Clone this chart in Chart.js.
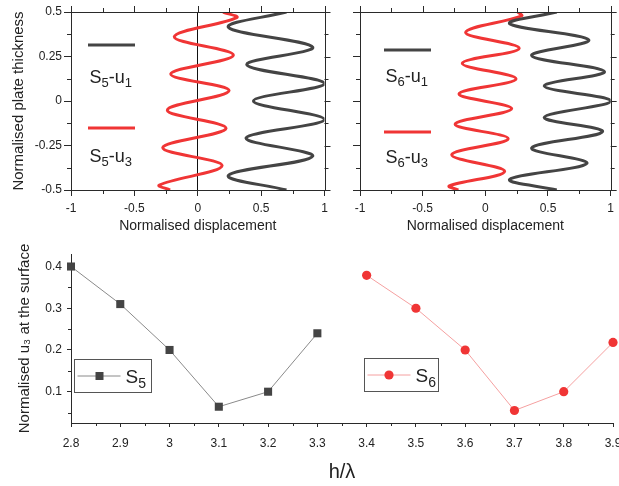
<!DOCTYPE html>
<html><head><meta charset="utf-8">
<script src="https://cdn.jsdelivr.net/npm/chart.js@4/dist/chart.umd.min.js"></script>
<style>
html,body{margin:0;padding:0;background:#fff;overflow:hidden;width:619px;height:486px;position:relative;}
canvas{position:absolute;}
</style></head>
<body>
<canvas id="c1" style="left:0px;top:0px" width="340" height="240"></canvas>
<canvas id="c2" style="left:340px;top:0px" width="279" height="240"></canvas>
<canvas id="c3" style="left:0px;top:240px" width="640" height="246"></canvas>
<script>
// ---------- data ----------
// S5 mode shape: displacement (x) vs normalised thickness (y)
const s5u1Disp  = [0.70, 0.242, 0.907, 0.387, 1.0, 0.439, 1.0, 0.381, 0.907, 0.242, 0.70];
const s5u1Thick = [0.5, 0.414, 0.302, 0.204, 0.098, 0.0, -0.104, -0.208, -0.310, -0.418, -0.5];
const s5u3Disp  = [0.20, 0.307, -0.185, 0.281, -0.213, 0.247, -0.240, 0.223, -0.276, 0.192, -0.303, -0.218];
const s5u3Thick = [0.5, 0.468, 0.361, 0.258, 0.152, 0.058, -0.051, -0.153, -0.262, -0.363, -0.472, -0.5];
// S6 mode shape
const s6u1Disp  = [0.57, 0.195, 0.825, 0.37, 0.95, 0.47, 1.0, 0.47, 0.935, 0.37, 0.81, 0.195, 0.57];
const s6u1Thick = [0.5, 0.434, 0.343, 0.255, 0.165, 0.084, 0.0, -0.092, -0.172, -0.264, -0.350, -0.440, -0.5];
const s6u3Disp  = [0.258, 0.29, -0.157, 0.27, -0.184, 0.245, -0.21, 0.21, -0.241, 0.182, -0.268, 0.154, -0.287, -0.215];
const s6u3Thick = [0.5, 0.478, 0.385, 0.296, 0.212, 0.124, 0.040, -0.043, -0.130, -0.212, -0.302, -0.395, -0.477, -0.5];
// Surface u3 vs h/lambda
const hS5  = [2.8, 2.9, 3.0, 3.1, 3.2, 3.3];
const u3S5 = [0.40, 0.31, 0.20, 0.064, 0.10, 0.24];
const hS6  = [3.4, 3.5, 3.6, 3.7, 3.8, 3.9];
const u3S6 = [0.379, 0.30, 0.20, 0.055, 0.10, 0.218];
// ticks
const dispTicks  = [-1, -0.5, 0, 0.5, 1];
const dispMinor  = [-0.75, -0.25, 0.25, 0.75];
const thickTicks = [-0.5, -0.25, 0, 0.25, 0.5];
const thickMinor = [-0.375, -0.125, 0.125, 0.375];
const hTicks  = [2.8, 2.9, 3.0, 3.1, 3.2, 3.3, 3.4, 3.5, 3.6, 3.7, 3.8, 3.9];
const hMinor  = [2.85, 2.95, 3.05, 3.15, 3.25, 3.35, 3.45, 3.55, 3.65, 3.75, 3.85];
const uTicks  = [0.1, 0.2, 0.3, 0.4];
const uMinor  = [0.05, 0.15, 0.25, 0.35];

// ---------- styling ----------
const F = "'Liberation Sans', Arial, sans-serif";
const AX = '#2a2a2a';
const BLACKC = '#444444';
const REDC = '#f03535';

function pts(xs, ys){ return xs.map((x,i)=>({x:x, y:ys[i]})); }
function fixTicks(arr){ return s => { s.ticks = arr.map(v=>({value:v})); }; }

function drawSub(ctx, parts, x, y){
  // parts: [text, size, dy]
  let cx = x;
  for (const p of parts){
    ctx.font = p[1] + 'px ' + F;
    ctx.fillText(p[0], cx, y + p[2]);
    cx += ctx.measureText(p[0]).width;
  }
}

// minor ticks + optional full frame with mirrored ticks, all from the chart's scales
const frameTicks = {
  id:'frameTicks',
  afterDraw(chart, args, o){
    const ctx = chart.ctx, a = chart.chartArea, xs = chart.scales.x, ys = chart.scales.y;
    ctx.save();
    ctx.strokeStyle = AX; ctx.lineWidth = 1;
    ctx.beginPath();
    for (const v of o.minorX){ const px = Math.round(xs.getPixelForValue(v))+0.5; ctx.moveTo(px, a.bottom); ctx.lineTo(px, a.bottom + o.minLen);
      if (o.box){ ctx.moveTo(px, a.top); ctx.lineTo(px, a.top - o.minLen); } }
    for (const v of o.minorY){ const py = Math.round(ys.getPixelForValue(v))+0.5; ctx.moveTo(a.left, py); ctx.lineTo(a.left - o.minLen, py);
      if (o.box){ ctx.moveTo(a.right, py); ctx.lineTo(a.right + o.minLen, py); } }
    if (o.box){
      for (const t of xs.ticks){ const px = Math.round(xs.getPixelForValue(t.value))+0.5; ctx.moveTo(px, a.top); ctx.lineTo(px, a.top - o.majLen); }
      for (const t of ys.ticks){ const py = Math.round(ys.getPixelForValue(t.value))+0.5; ctx.moveTo(a.right, py); ctx.lineTo(a.right + o.majLen, py); }
    }
    ctx.stroke();
    if (o.box){
      ctx.beginPath();
      ctx.rect(Math.round(a.left)+0.5, Math.round(a.top)+0.5, Math.round(a.right-a.left), Math.round(a.bottom-a.top));
      ctx.stroke();
    }
    ctx.restore();
  }
};

// legends drawn as text on the canvas
const legendTop = {
  id:'legendTop',
  afterDraw(chart, args, o){
    const ctx = chart.ctx, a = chart.chartArea;
    ctx.save();
    ctx.textBaseline = 'alphabetic'; ctx.textAlign = 'left';
    ctx.lineWidth = 3; ctx.lineCap = 'butt';
    const L = a.left + o.dx;
    ctx.strokeStyle = BLACKC; ctx.beginPath(); ctx.moveTo(L, a.top + o.y1); ctx.lineTo(L + 47, a.top + o.y1); ctx.stroke();
    ctx.strokeStyle = REDC; ctx.beginPath(); ctx.moveTo(L, a.top + o.y2); ctx.lineTo(L + 47, a.top + o.y2); ctx.stroke();
    ctx.fillStyle = '#222';
    drawSub(ctx, [['S',18,0],[o.n,13,4],['-u',18,0],['1',13,4]], L + 1.5, a.top + o.t1);
    drawSub(ctx, [['S',18,0],[o.n,13,4],['-u',18,0],['3',13,4]], L + 1.5, a.top + o.t2);
    ctx.restore();
  }
};

const legendBottom = {
  id:'legendBottom',
  afterDraw(chart){
    const ctx = chart.ctx, a = chart.chartArea;
    ctx.save();
    ctx.textBaseline = 'alphabetic'; ctx.textAlign = 'left';
    const boxes = [
      {x: a.left + 3.5, y: a.top + 105.5, w: 77, h: 33, line:'#8a8a8a', mark:'rect', mc:BLACKC, n:'5'},
      {x: a.left + 293.5, y: a.top + 104.5, w: 74, h: 33, line:'#f5a0a0', mark:'circle', mc:REDC, n:'6'}
    ];
    for (const b of boxes){
      ctx.strokeStyle = '#555'; ctx.lineWidth = 1;
      ctx.strokeRect(b.x, b.y, b.w, b.h);
      const cy = b.y + b.h/2;
      ctx.strokeStyle = b.line; ctx.beginPath(); ctx.moveTo(b.x + 3, cy); ctx.lineTo(b.x + 46, cy); ctx.stroke();
      ctx.fillStyle = b.mc;
      if (b.mark === 'rect'){ ctx.fillRect(b.x + 21, cy - 4, 8, 8); }
      else { ctx.beginPath(); ctx.arc(b.x + 24.5, cy, 4.6, 0, Math.PI*2); ctx.fill(); }
      ctx.fillStyle = '#222';
      drawSub(ctx, [['S',19,0],[b.n,14,5]], b.x + 51, cy + 7);
    }
    ctx.restore();
  }
};

function topChart(id, u1x, u1y, u3x, u3y, isLeft, legOpts){
  return new Chart(document.getElementById(id), {
    type:'scatter',
    data:{ datasets:[
      {data:pts(u1x,u1y), showLine:true, borderColor:BLACKC, borderWidth:3, pointRadius:0, tension:0.36, fill:false},
      {data:pts(u3x,u3y), showLine:true, borderColor:REDC, borderWidth:3, pointRadius:0, tension:0.36, fill:false}
    ]},
    options:{
      responsive:false, animation:false, devicePixelRatio:1,
      layout:{padding: isLeft ? {left:0, top:12, right:15.5, bottom:0} : {left:0, top:12, right:6, bottom:0}},
      plugins:{legend:{display:false}, tooltip:{enabled:false},
        frameTicks:{minorX:dispMinor, minorY:thickMinor, box:true, minLen:4, majLen:6},
        legendTop:legOpts},
      scales:{
        x:{type:'linear', min:-1, max:1, afterBuildTicks:fixTicks(dispTicks),
          afterFit: s=>{ s.height = 50; },
          ticks:{font:{family:F, size:12}, color:'#222', padding:5, maxRotation:0, callback:v=>String(v)},
          grid:{drawOnChartArea:isLeft, color: c => (isLeft && c.tick && c.tick.value === 0) ? '#111' : 'rgba(0,0,0,0)', tickColor:AX, tickLength:6, lineWidth:1},
          border:{color:AX, width:1},
          title:{display:true, text:'Normalised displacement', font:{family:F, size:14}, color:'#222', padding:{top:0, bottom:5}}
        },
        y:{type:'linear', min:-0.5, max:0.5, afterBuildTicks:fixTicks(thickTicks),
          afterFit: s=>{ s.width = isLeft ? 71 : 20; },
          ticks:{display:isLeft, font:{family:F, size:12}, color:'#222', padding:2, callback:v=>String(v)},
          grid:{drawOnChartArea:false, tickColor:AX, tickLength:7},
          border:{color:AX, width:1},
          title:{display:isLeft, text:'Normalised plate thickness', font:{family:F, size:15}, color:'#222', padding:{top:10, bottom:0}}
        }
      }
    },
    plugins:[frameTicks, legendTop]
  });
}

Chart.register({id:'dummy'});
topChart('c1', s5u1Disp, s5u1Thick, s5u3Disp, s5u3Thick, true, {n:'5', dx:17, y1:33, y2:116, t1:71, t2:150});
topChart('c2', s6u1Disp, s6u1Thick, s6u3Disp, s6u3Thick, false, {n:'6', dx:24, y1:38, y2:120, t1:70, t2:151});

new Chart(document.getElementById('c3'), {
  type:'scatter',
  data:{ datasets:[
    {data:pts(hS5,u3S5), showLine:true, borderColor:'#8a8a8a', borderWidth:1, pointStyle:'rect', pointRadius:5.7, pointBackgroundColor:BLACKC, pointBorderColor:BLACKC, pointBorderWidth:0, tension:0},
    {data:pts(hS6,u3S6), showLine:true, borderColor:'#f5a0a0', borderWidth:1, pointStyle:'circle', pointRadius:4.6, pointBackgroundColor:REDC, pointBorderColor:REDC, pointBorderWidth:0, tension:0}
  ]},
  options:{
    responsive:false, animation:false, devicePixelRatio:1,
    layout:{padding:{left:0, top:14, right:27, bottom:0}},
    plugins:{legend:{display:false}, tooltip:{enabled:false},
      frameTicks:{minorX:hMinor, minorY:uMinor, box:false, minLen:3, majLen:4}},
    scales:{
      x:{type:'linear', min:2.8, max:3.9, afterBuildTicks:fixTicks(hTicks),
        afterFit: s=>{ s.height = 63; },
        ticks:{font:{family:F, size:12}, color:'#222', padding:9, maxRotation:0, callback:v=>String(v)},
        grid:{drawOnChartArea:false, tickColor:AX, tickLength:4},
        border:{color:AX, width:1},
        title:{display:true, text:'h/λ', font:{family:F, size:20}, color:'#222', padding:{top:0, bottom:2}}
      },
      y:{type:'linear', min:0.025, max:0.43, afterBuildTicks:fixTicks(uTicks),
        afterFit: s=>{ s.width = 71; },
        ticks:{font:{family:F, size:12}, color:'#222', padding:5, callback:v=>String(v)},
        grid:{drawOnChartArea:false, tickColor:AX, tickLength:4},
        border:{color:AX, width:1},
        title:{display:true, text:'Normalised u₃ at the surface', font:{family:F, size:15}, color:'#222', padding:{top:16, bottom:0}}
      }
    },
    clip:false
  },
  plugins:[frameTicks, legendBottom]
});
</script>
</body></html>
